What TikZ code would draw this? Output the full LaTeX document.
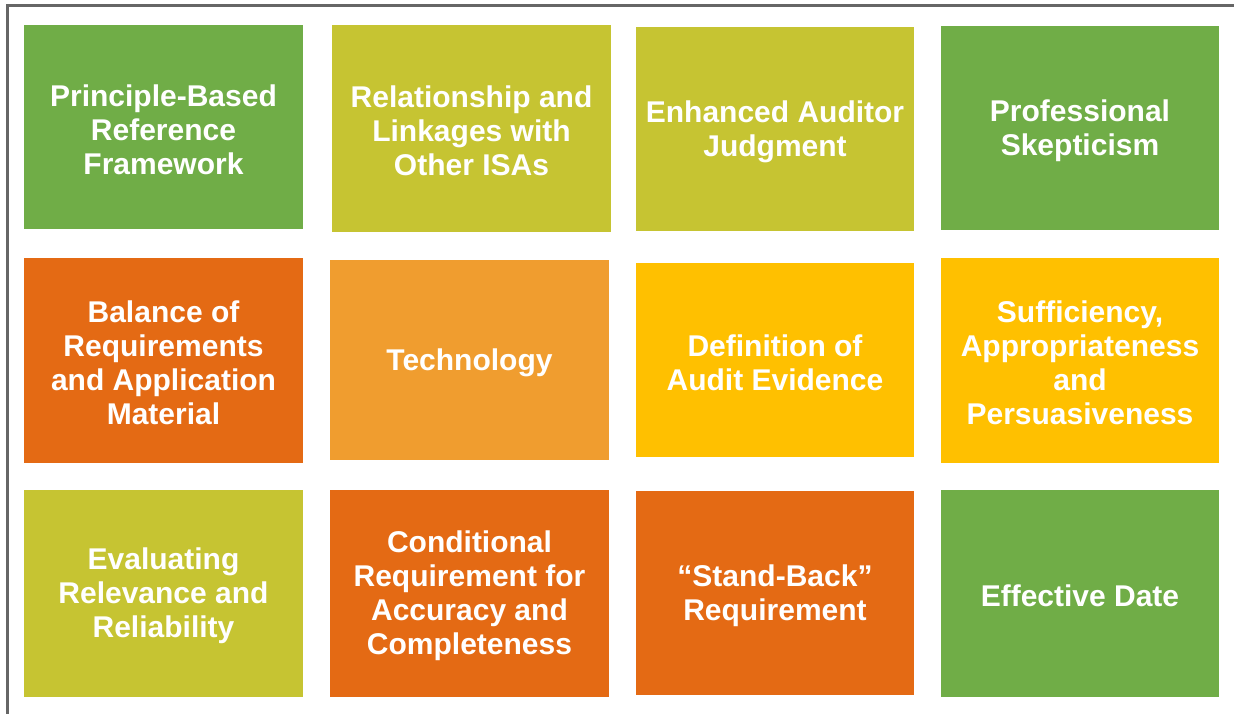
\documentclass[tikz,border=0pt]{standalone}
\usepackage{fontspec}
\setmainfont{Liberation Sans}
\definecolor{cgreen}{HTML}{70AD47}
\definecolor{cyg}{HTML}{C6C432}
\definecolor{corange}{HTML}{E46A14}
\definecolor{clorange}{HTML}{F09D2F}
\definecolor{cgold}{HTML}{FFC000}
\definecolor{cframe}{HTML}{666666}
\tikzset{
  tile/.style={rectangle, inner sep=0pt, outer sep=0pt},
  tiletext/.style={text=white, align=center, inner sep=0pt, yshift=-2.5pt,
    font=\fontsize{30}{34}\selectfont\bfseries},
}
\begin{document}
\begin{tikzpicture}[x=1pt,y=-1pt]
\useasboundingbox (0,0) rectangle (1234,713);
\clip (0,0) rectangle (1234,713);
\fill[white] (0,0) rectangle (1234,713);
\draw[cframe, line width=3pt] (7.5,5.5) rectangle (1250,730);
% row 1
\node[tile, fill=cgreen, minimum width=279pt, minimum height=204pt, label={[tiletext]center:{Principle-Based\\Reference\\Framework}}] (a1) at (163.5,127) {};
\node[tile, fill=cyg, minimum width=279pt, minimum height=207pt, label={[tiletext]center:{Relationship and\\Linkages with\\Other ISAs}}] (a2) at (471.5,128.5) {};
\node[tile, fill=cyg, minimum width=278pt, minimum height=204pt, label={[tiletext]center:{Enhanced Auditor\\Judgment}}] (a3) at (775,129) {};
\node[tile, fill=cgreen, minimum width=278pt, minimum height=204pt, label={[tiletext]center:{Professional\\Skepticism}}] (a4) at (1080,128) {};
% row 2
\node[tile, fill=corange, minimum width=279pt, minimum height=205pt, label={[tiletext]center:{Balance of\\Requirements\\and Application\\Material}}] (b1) at (163.5,360.5) {};
\node[tile, fill=clorange, minimum width=279pt, minimum height=200pt, label={[tiletext]center:{Technology}}] (b2) at (469.5,360) {};
\node[tile, fill=cgold, minimum width=278pt, minimum height=194pt, label={[tiletext]center:{Definition of\\Audit Evidence}}] (b3) at (775,360) {};
\node[tile, fill=cgold, minimum width=278pt, minimum height=205pt, label={[tiletext]center:{Sufficiency,\\Appropriateness\\and\\Persuasiveness}}] (b4) at (1080,360.5) {};
% row 3
\node[tile, fill=cyg, minimum width=279pt, minimum height=207pt, label={[tiletext]center:{Evaluating\\Relevance and\\Reliability}}] (c1) at (163.5,593.5) {};
\node[tile, fill=corange, minimum width=279pt, minimum height=207pt, label={[tiletext]center:{Conditional\\Requirement for\\Accuracy and\\Completeness}}] (c2) at (469.5,593.5) {};
\node[tile, fill=corange, minimum width=278pt, minimum height=204pt, label={[tiletext]center:{“Stand-Back”\\Requirement}}] (c3) at (775,593) {};
\node[tile, fill=cgreen, minimum width=278pt, minimum height=207pt, label={[tiletext]center:{Effective Date}}] (c4) at (1080,593.5) {};
\end{tikzpicture}
\end{document}
